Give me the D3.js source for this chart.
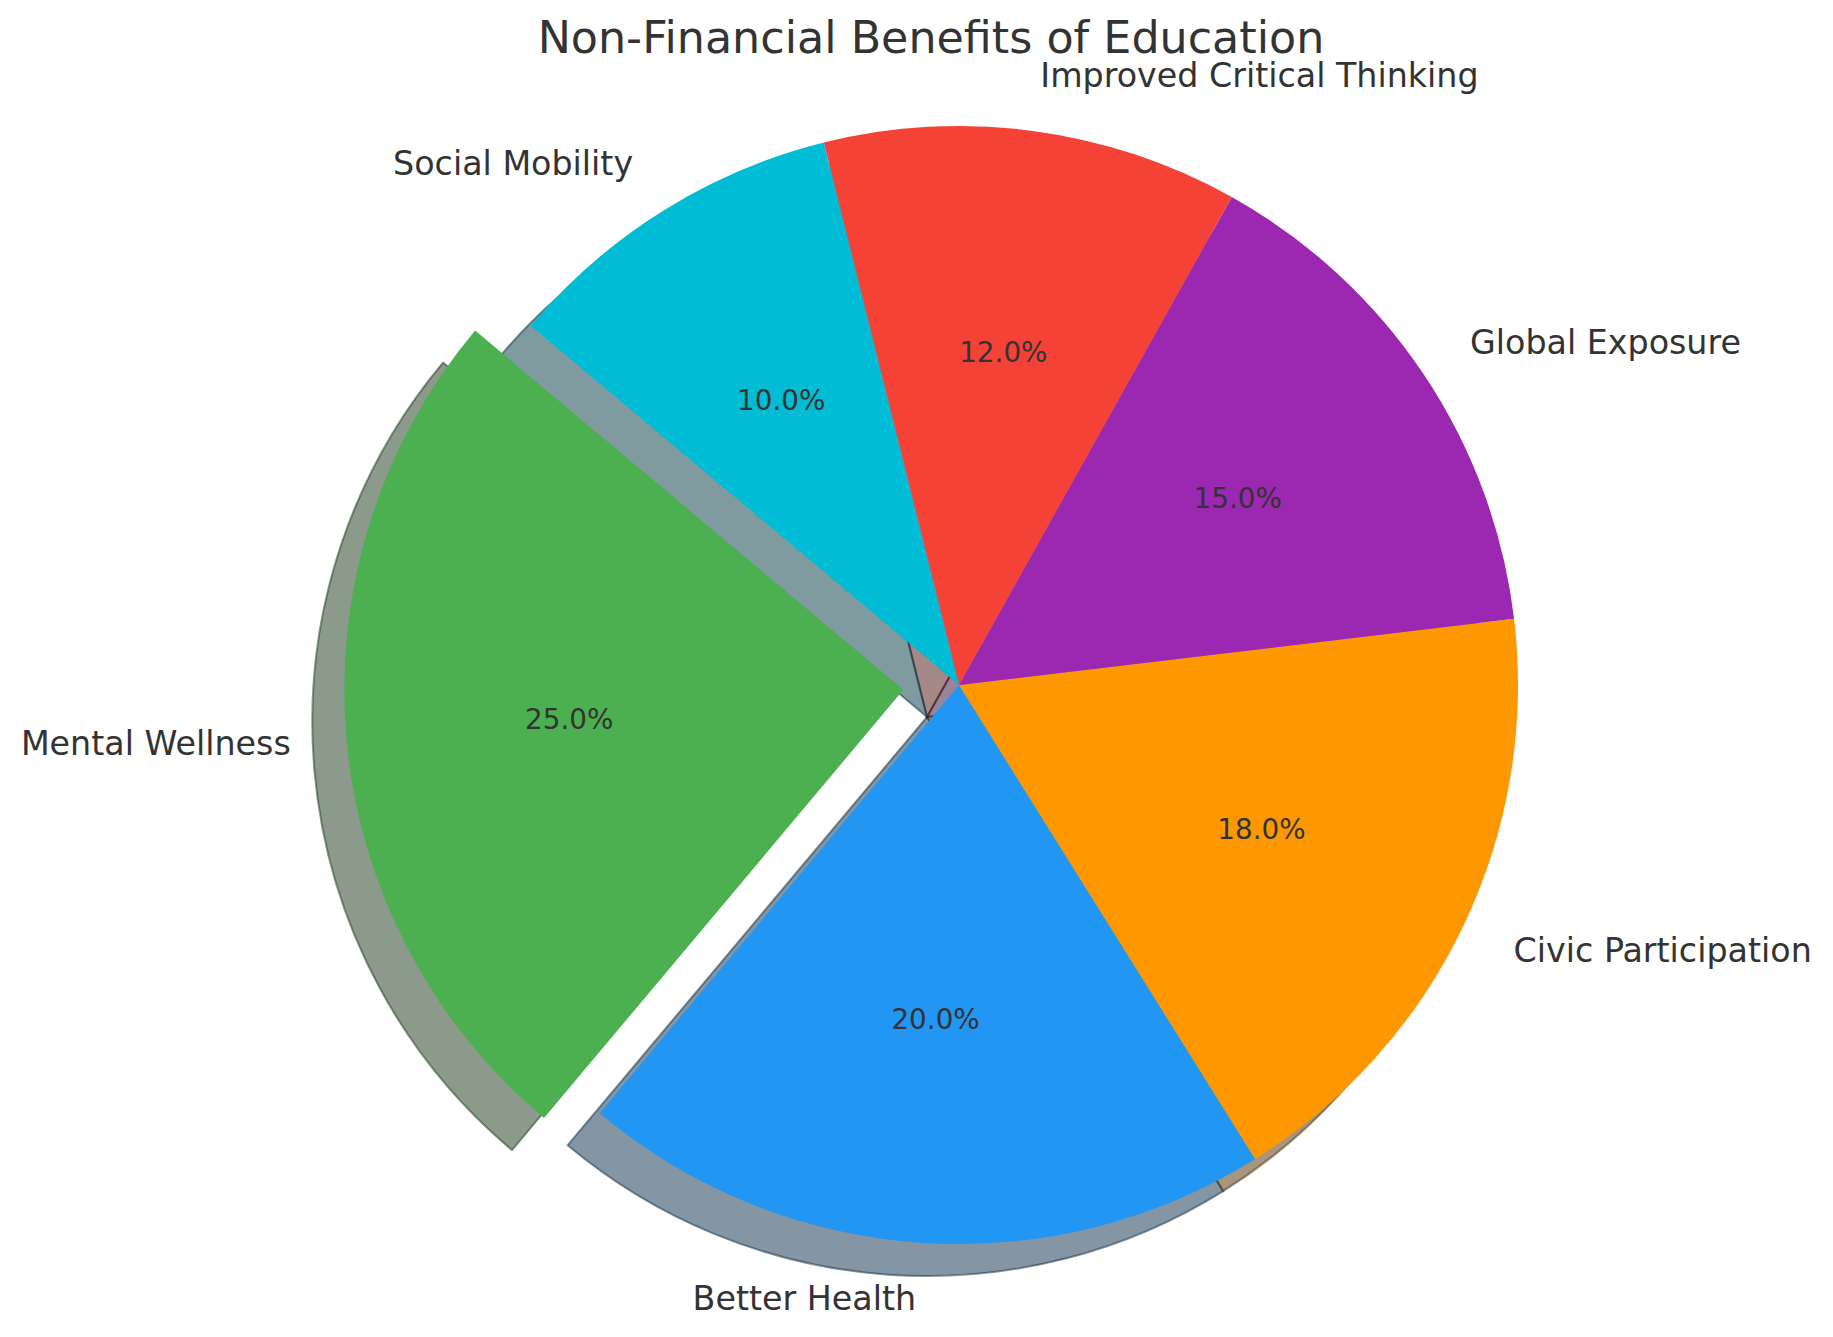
<!DOCTYPE html>
<html>
<head>
<meta charset="utf-8">
<script src="https://cdn.jsdelivr.net/npm/d3@7"></script>
<style>
  html, body { margin: 0; padding: 0; background: #fff; }
  svg { display: block; }
  text { font-family: "DejaVu Sans", sans-serif; fill: #333333; }
</style>
</head>
<body>
<svg id="chart" width="1833" height="1337"></svg>
<script>
const categories = ["Mental Wellness", "Better Health", "Civic Participation", "Global Exposure", "Improved Critical Thinking", "Social Mobility"];
const values = [25, 20, 18, 15, 12, 10];
const colors = ["#4CAF50", "#2196F3", "#FF9800", "#9C27B0", "#F44336", "#00BCD4"];
const explode = [0.1, 0, 0, 0, 0, 0];
const title = "Non-Financial Benefits of Education";

const W = 1833, H = 1337;
const cx = 959, cy = 685, R = 559;
const startAngle = 140; // degrees, counterclockwise from +x
const shadowOff = 32;

const svg = d3.select("#chart");
const total = d3.sum(values);

// angle scale: cumulative value -> math angle (degrees)
const angScale = d3.scaleLinear().domain([0, total]).range([startAngle, startAngle + 360]);
const cum = d3.cumsum(values);
const slices = values.map((v, i) => {
  const a0 = angScale(i === 0 ? 0 : cum[i - 1]);
  const a1 = angScale(cum[i]);
  const mid = (a0 + a1) / 2 * Math.PI / 180;
  const ex = explode[i] * R;
  return {
    i, v, a0, a1, mid,
    ox: cx + ex * Math.cos(mid),
    oy: cy - ex * Math.sin(mid)
  };
});

const toD3 = a => (90 - a) * Math.PI / 180;
const arc = d3.arc().innerRadius(0).outerRadius(R);

function shade(c) {
  const rgb = d3.rgb(c);
  return d3.rgb(rgb.r * 0.3, rgb.g * 0.3, rgb.b * 0.3).toString();
}

// shadows
const gShadow = svg.append("g");
slices.forEach(s => {
  gShadow.append("path")
    .attr("transform", `translate(${s.ox - shadowOff},${s.oy + shadowOff})`)
    .attr("d", arc({ startAngle: toD3(s.a0), endAngle: toD3(s.a1) }))
    .attr("fill", shade(colors[s.i]))
    .attr("fill-opacity", 0.5)
    .attr("stroke", shade(colors[s.i]))
    .attr("stroke-opacity", 0.5)
    .attr("stroke-width", 2)
    .attr("stroke-linejoin", "miter");
});

// wedges
const gWedge = svg.append("g");
slices.forEach(s => {
  gWedge.append("path")
    .attr("transform", `translate(${s.ox},${s.oy})`)
    .attr("d", arc({ startAngle: toD3(s.a0), endAngle: toD3(s.a1) }))
    .attr("fill", colors[s.i]);
});

// labels
const gLab = svg.append("g");
slices.forEach(s => {
  const dx = Math.cos(s.mid), dy = -Math.sin(s.mid);
  const lx = s.ox + 1.1 * R * dx, ly = s.oy + 1.1 * R * dy;
  gLab.append("text")
    .attr("x", lx).attr("y", ly)
    .attr("text-anchor", (lx - cx) > 0 ? "start" : "end")
    .attr("dominant-baseline", "central")
    .style("font-size", "33.3px")
    .text(categories[s.i]);
  const px = s.ox + 0.6 * R * dx, py = s.oy + 0.6 * R * dy;
  gLab.append("text")
    .attr("x", px).attr("y", py)
    .attr("text-anchor", "middle")
    .attr("dominant-baseline", "central")
    .style("font-size", "27.8px")
    .text((s.v / total * 100).toFixed(1) + "%");
});

svg.append("text")
  .attr("x", 931).attr("y", 53)
  .attr("text-anchor", "middle")
  .style("font-size", "44.4px")
  .text(title);
</script>
</body>
</html>
